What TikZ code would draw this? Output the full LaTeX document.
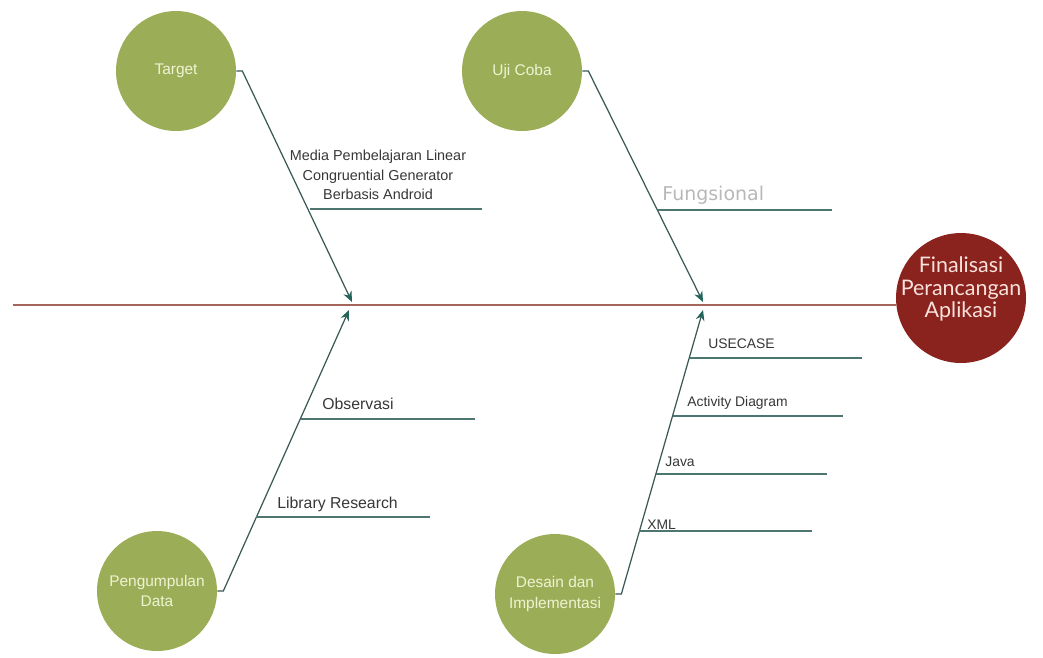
\documentclass[tikz,border=0pt]{standalone}
\usepackage{fontspec}
\setmainfont{Liberation Sans}
\newfontfamily\latofont{Lato}
\newfontfamily\dejafont{DejaVu Sans}
\usetikzlibrary{arrows.meta}
\definecolor{causegreen}{RGB}{156,173,88}
\definecolor{headred}{RGB}{138,34,30}
\definecolor{spinered}{RGB}{165,100,92}
\definecolor{bonecol}{RGB}{58,88,86}
\definecolor{tipcol}{RGB}{36,100,90}
\definecolor{branchcol}{RGB}{78,118,112}
\definecolor{labelcol}{RGB}{55,55,55}
\begin{document}
\begin{tikzpicture}[x=0.02cm,y=-0.02cm,
    cause/.style={circle,fill=causegreen,minimum size=2.4cm,inner sep=0pt,align=center,
      text={rgb,255:red,238;green,243;blue,210},font=\fontsize{8.8}{11.5}\selectfont},
    head/.style={circle,fill=headred,minimum size=2.6cm,inner sep=0pt},
    bone/.style={draw=bonecol,line width=.7pt,-{Stealth[length=6pt,width=5pt,color=tipcol]}},
    branch/.style={draw=branchcol,line width=.85pt},
    lbl/.style={text=labelcol,inner sep=0pt,anchor=base west}]
  \useasboundingbox (0,0) rectangle (1043,657);
  % causes
  \node[cause](C1) at(176,71) {Target};
  \node[cause](C2) at(522,71) {Uji Coba};
  \node[cause](C3) at(157,591) {Pengumpulan\\Data};
  \node[cause](C4) at(555,594) {Desain dan\\Implementasi};
  % effect
  \node[head](H) at(961,298) {};
  \node[text={rgb,255:red,250;green,226;blue,220},align=center,
    font=\latofont\fontsize{12.2}{13}\selectfont](HT) at(961,289) {Finalisasi\\Perancangan\\Aplikasi};
  \coordinate (SP) at(13,305);
  \draw[spinered,line width=1.1pt](SP)--(SP -| H.west);
  % arrow tips on the spine
  \foreach \x/\px/\py in {1/352/302, 2/703/302, 3/349/310, 4/703/310}{
    \coordinate (A\x) at(\px,\py);
  }
  \foreach \x in {1,2,3,4}{
    \draw[bone](C\x.east)--++(6,0)--(A\x);
  }
  % sub causes
  \foreach \x/\a/\b/\y in {1/310/482/209, 2/658/832/210, 3/301/475/419, 4/256/430/517,
      5/690/862/358, 6/673/843/416, 7/656/827/474, 8/639/812/531}{
    \coordinate (S\x) at(\a,\y);
    \coordinate (E\x) at(\b,\y);
    \draw[branch](S\x)--(E\x);
  }
  \node[text=labelcol,align=center,font=\fontsize{8.2}{11}\selectfont](L1) at(378,175)
    {Media Pembelajaran Linear\\Congruential Generator\\Berbasis Android};
  \node[lbl,text=black!28,font=\dejafont\fontsize{10.8}{12}\selectfont](L2) at(662,200) {Fungsional};
  \foreach \x/\px/\py/\s/\t in {3/322/409/9/Observasi, 4/277/508/9/Library Research,
      5/708/348/7.9/USECASE, 6/687/406/7.9/Activity Diagram, 7/665/466/7.9/Java, 8/647/529/7.9/XML}{
    \node[lbl,font=\fontsize{\s}{\s}\selectfont](L\x) at(\px,\py) {\t};
  }
\end{tikzpicture}
\end{document}
